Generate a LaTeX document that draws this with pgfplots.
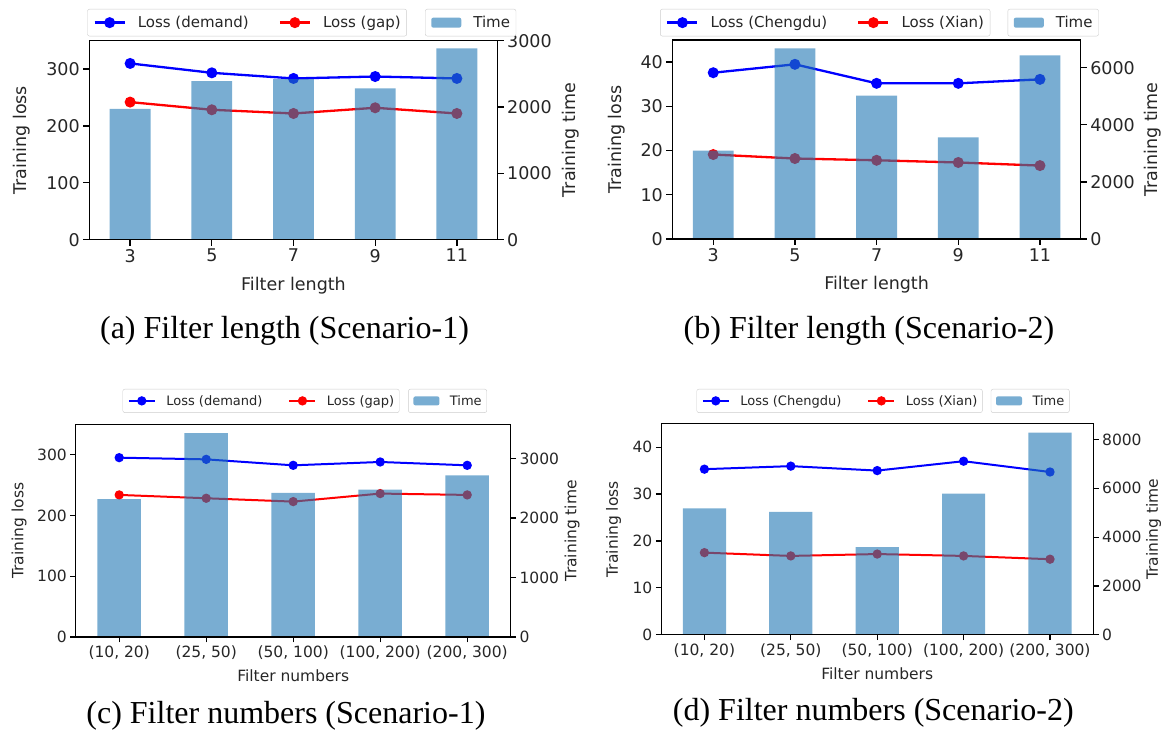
\documentclass[border=0pt]{standalone}
\usepackage{pgfplots}
\pgfplotsset{compat=1.18}
\usepackage{fontspec}
\setmainfont{DejaVu Sans}
\newfontfamily\capfont{Liberation Serif}
\definecolor{mplblue}{RGB}{31,119,180}
\definecolor{lossblue}{RGB}{0,0,255}
\definecolor{lossred}{RGB}{255,0,0}
\definecolor{txt}{RGB}{38,38,38}

\pgfplotsset{
  base/.style={
    scale only axis, xmin=-0.5, xmax=4.5, ymin=0,
    tick align=outside,
    xtick={0,1,2,3,4},
    scaled y ticks=false,
    /pgf/number format/assume math mode=true,
    /pgf/number format/1000 sep={},
    tick label style={text=txt},
    label style={text=txt},
    legend cell align=left,
    legend style={anchor=north west, draw=black!20, fill=white, rounded corners=2pt, text=txt,
      nodes={inner xsep=0pt, inner ysep=0pt}},
  },
  big/.style={
    major tick length=6pt,
    every tick/.append style={black, line width=1.3pt},
    axis line style={line width=1.3pt},
    tick label style={font=\fontsize{17.5}{21}\selectfont},
    label style={font=\fontsize{17.5}{21}\selectfont},
    legend style={font=\fontsize{15}{18}\selectfont, inner xsep=6pt, inner ysep=7pt,
      /tikz/every odd column/.append style={column sep=12pt},
      /tikz/every even column/.append style={column sep=30pt}},
  },
  small/.style={
    major tick length=5.4pt,
    every tick/.append style={black, line width=1.2pt},
    axis line style={line width=1.2pt},
    tick label style={font=\fontsize{15.5}{18.6}\selectfont},
    label style={font=\fontsize{15.5}{18.6}\selectfont},
    legend style={font=\fontsize{13}{15.6}\selectfont, inner xsep=5pt, inner ysep=6pt,
      /tikz/every odd column/.append style={column sep=10.5pt},
      /tikz/every even column/.append style={column sep=26pt}},
  },
  lossbig/.style={line width=2.3pt, mark=*, mark size=4.3pt,
    legend image code/.code={\draw[mark repeat=2,mark phase=2] plot coordinates {(0pt,0pt) (15pt,0pt) (30pt,0pt)};}},
  losssmall/.style={line width=2pt, mark=*, mark size=3.6pt,
    legend image code/.code={\draw[mark repeat=2,mark phase=2] plot coordinates {(0pt,0pt) (13pt,0pt) (26pt,0pt)};}},
  barbig/.style={ybar, bar width=0.5, bar shift=0pt, fill=mplblue, fill opacity=0.6, draw=none,
    legend image code/.code={\fill[mplblue, fill opacity=0.6] (0pt,-5pt) rectangle (30pt,5pt);}},
  barsmall/.style={ybar, bar width=0.5, bar shift=0pt, fill=mplblue, fill opacity=0.6, draw=none,
    legend image code/.code={\fill[mplblue, fill opacity=0.6] (0pt,-4.5pt) rectangle (26pt,4.5pt);}},
}

\begin{document}
\begin{tikzpicture}
\path[use as bounding box] (0,0) rectangle (1164pt,731pt);

% ---------------- (a)
\begin{axis}[base, big, at={(89.3pt,491.3pt)}, anchor=south west, width=408.4pt, height=199pt,
  ymax=350, ytick={0,100,200,300}, xticklabels={3,5,7,9,11},
  xtick pos=left, ytick pos=left,
  xlabel={Filter length}, xlabel style={at={(axis description cs:0.5,-0.2528)}, anchor=base},
  ylabel={Training loss}, ylabel style={at={(axis description cs:-0.1653,0.5)}, anchor=center},
  legend columns=2,
  legend style={at={(axis description cs:-0.0049,1.1593)}},
]
\addplot[lossbig, color=lossblue] coordinates {(0,310) (1,293.5) (2,283.6) (3,287) (4,283.6)};
\addlegendentry{Loss (demand)}
\addplot[lossbig, color=lossred] coordinates {(0,242) (1,228.5) (2,222) (3,232) (4,222)};
\addlegendentry{Loss (gap)}
\end{axis}
\begin{axis}[base, big, at={(89.3pt,491.3pt)}, anchor=south west, width=408.4pt, height=199pt,
  ymax=3000, ytick={0,1000,2000,3000},
  axis y line*=right, axis x line*=bottom, xtick=\empty, axis on top,
  ylabel={Training time}, ylabel style={at={(axis description cs:1.1795,0.5)}, anchor=center},
  legend style={at={(axis description cs:0.8222,1.1593)}},
]
\addplot[barbig] coordinates {(0,1973) (1,2391) (2,2421) (3,2280) (4,2884)};
\addlegendentry{Time}
\end{axis}

% ---------------- (b)
\begin{axis}[base, big, at={(672.4pt,492pt)}, anchor=south west, width=408.4pt, height=199pt,
  ymax=45, ytick={0,10,20,30,40}, xticklabels={3,5,7,9,11},
  xtick pos=left, ytick pos=left,
  xlabel={Filter length}, xlabel style={at={(axis description cs:0.5,-0.2563)}, anchor=base},
  ylabel={Training loss}, ylabel style={at={(axis description cs:-0.1374,0.5)}, anchor=center},
  legend columns=2,
  legend style={at={(axis description cs:-0.0301,1.1558)}},
]
\addplot[lossbig, color=lossblue] coordinates {(0,37.6) (1,39.5) (2,35.2) (3,35.2) (4,36.1)};
\addlegendentry{Loss (Chengdu)}
\addplot[lossbig, color=lossred] coordinates {(0,19.1) (1,18.2) (2,17.8) (3,17.3) (4,16.6)};
\addlegendentry{Loss (Xian)}
\end{axis}
\begin{axis}[base, big, at={(672.4pt,492pt)}, anchor=south west, width=408.4pt, height=199pt,
  ymax=6970, ytick={0,2000,4000,6000},
  axis y line*=right, axis x line*=bottom, xtick=\empty, axis on top,
  ylabel={Training time}, ylabel style={at={(axis description cs:1.1759,0.5)}, anchor=center},
  legend style={at={(axis description cs:0.8208,1.1558)}},
]
\addplot[barbig] coordinates {(0,3093) (1,6677) (2,5019) (3,3560) (4,6432)};
\addlegendentry{Time}
\end{axis}

% ---------------- (c)
\begin{axis}[base, small, at={(75.7pt,94pt)}, anchor=south west, width=435pt, height=212.7pt,
  ymax=350, ytick={0,100,200,300},
  xticklabels={{(10, 20)},{(25, 50)},{(50, 100)},{(100, 200)},{(200, 300)}},
  xtick pos=left, ytick pos=left,
  xlabel={Filter numbers}, xlabel style={at={(axis description cs:0.5,-0.2092)}, anchor=base},
  ylabel={Training loss}, ylabel style={at={(axis description cs:-0.1299,0.5)}, anchor=center},
  legend columns=2,
  legend style={at={(axis description cs:0.1078,1.166)}},
]
\addplot[losssmall, color=lossblue] coordinates {(0,295.1) (1,292.3) (2,282.5) (3,288) (4,282.5)};
\addlegendentry{Loss (demand)}
\addplot[losssmall, color=lossred] coordinates {(0,233.8) (1,228.3) (2,222.8) (3,236) (4,233.8)};
\addlegendentry{Loss (gap)}
\end{axis}
\begin{axis}[base, small, at={(75.7pt,94pt)}, anchor=south west, width=435pt, height=212.7pt,
  ymax=3575, ytick={0,1000,2000,3000},
  axis y line*=right, axis x line*=bottom, xtick=\empty, axis on top,
  ylabel={Training time}, ylabel style={at={(axis description cs:1.1409,0.5)}, anchor=center},
  legend style={at={(axis description cs:0.7644,1.166)}},
]
\addplot[barsmall] coordinates {(0,2317) (1,3425) (2,2424) (3,2479) (4,2715)};
\addlegendentry{Time}
\end{axis}

% ---------------- (d)
\begin{axis}[base, small, at={(661.2pt,96.3pt)}, anchor=south west, width=432pt, height=211pt,
  ymax=45, ytick={0,10,20,30,40},
  xticklabels={{(10, 20)},{(25, 50)},{(50, 100)},{(100, 200)},{(200, 300)}},
  xtick pos=left, ytick pos=left,
  xlabel={Filter numbers}, xlabel style={at={(axis description cs:0.5,-0.21)}, anchor=base},
  ylabel={Training loss}, ylabel style={at={(axis description cs:-0.1104,0.5)}, anchor=center},
  legend columns=2,
  legend style={at={(axis description cs:0.0819,1.1645)}},
]
\addplot[losssmall, color=lossblue] coordinates {(0,35.3) (1,35.95) (2,35.0) (3,37.0) (4,34.7)};
\addlegendentry{Loss (Chengdu)}
\addplot[losssmall, color=lossred] coordinates {(0,17.5) (1,16.8) (2,17.2) (3,16.8) (4,16.1)};
\addlegendentry{Loss (Xian)}
\end{axis}
\begin{axis}[base, small, at={(661.2pt,96.3pt)}, anchor=south west, width=432pt, height=211pt,
  ymax=8650, ytick={0,2000,4000,6000,8000},
  axis y line*=right, axis x line*=bottom, xtick=\empty, axis on top,
  ylabel={Training time}, ylabel style={at={(axis description cs:1.1396,0.5)}, anchor=center},
  legend style={at={(axis description cs:0.763,1.1645)}},
]
\addplot[barsmall] coordinates {(0,5174) (1,5038) (2,3590) (3,5788) (4,8287)};
\addlegendentry{Time}
\end{axis}

% captions
\node[anchor=base, font=\capfont\fontsize{32}{38}\selectfont] at (284.5pt,392pt) {(a) Filter length (Scenario-1)};
\node[anchor=base, font=\capfont\fontsize{32}{38}\selectfont] at (869pt,392pt) {(b) Filter length (Scenario-2)};
\node[anchor=base, font=\capfont\fontsize{32}{38}\selectfont] at (285.9pt,8pt) {(c) Filter numbers (Scenario-1)};
\node[anchor=base, font=\capfont\fontsize{32}{38}\selectfont] at (873.3pt,11pt) {(d) Filter numbers (Scenario-2)};
\end{tikzpicture}
\end{document}
